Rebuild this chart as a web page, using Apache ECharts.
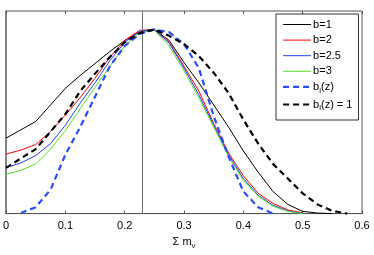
<!DOCTYPE html>
<html><head><meta charset="utf-8">
<script src="https://cdn.jsdelivr.net/npm/echarts@6/dist/echarts.min.js"></script>
<style>html,body{margin:0;padding:0;background:#fff}#c{width:374px;height:255px}</style>
</head><body><div id="c"></div>
<script>
var xs = [0, 0.025, 0.05, 0.075, 0.1, 0.125, 0.15, 0.175, 0.2, 0.225, 0.25, 0.275, 0.3, 0.325, 0.35, 0.375, 0.4, 0.425, 0.45, 0.475, 0.5, 0.525, 0.55, 0.575];
var b1   = [0.41, 0.455, 0.50, 0.59, 0.68, 0.75, 0.815, 0.88, 0.94, 0.985, 1.0, 0.94, 0.82, 0.71, 0.59, 0.47, 0.34, 0.225, 0.12, 0.05, 0.012, 0.003, 0.0, null];
var b2   = [0.323, 0.345, 0.375, 0.445, 0.535, 0.63, 0.735, 0.85, 0.94, 0.995, 1.0, 0.93, 0.80, 0.665, 0.49, 0.33, 0.205, 0.11, 0.055, 0.02, 0.004, null, null, null];
var b25  = [0.25, 0.275, 0.315, 0.38, 0.48, 0.60, 0.71, 0.83, 0.93, 0.99, 1.0, 0.925, 0.79, 0.645, 0.48, 0.32, 0.19, 0.10, 0.045, 0.015, 0.0, null, null, null];
var b3   = [0.213, 0.235, 0.27, 0.35, 0.45, 0.57, 0.685, 0.80, 0.91, 0.985, 0.995, 0.91, 0.775, 0.63, 0.47, 0.31, 0.18, 0.095, 0.04, 0.012, 0.0, null, null, null];
var biz  = [null, 0.003, 0.035, 0.13, 0.32, 0.47, 0.635, 0.80, 0.91, 0.975, 1.0, 0.985, 0.92, 0.79, 0.53, 0.31, 0.12, 0.035, 0.0, null, null, null, null, null];
var biz1 = [0.248, 0.30, 0.35, 0.445, 0.54, 0.665, 0.76, 0.85, 0.93, 0.98, 1.0, 0.965, 0.92, 0.855, 0.765, 0.655, 0.51, 0.38, 0.27, 0.19, 0.11, 0.05, 0.015, 0.0];
var xTicks = [0, 0.1, 0.2, 0.3, 0.4, 0.5, 0.6];
var vline = 0.235;

function pairs(ys){ var o=[]; for(var i=0;i<xs.length;i++){ if(ys[i]!==null) o.push([xs[i], ys[i]]); } return o; }

var names = ['b=1','b=2','b=2.5','b=3','b_i(z)','b_i(z) = 1'];
var colors = ['#000000','#ff0000','#2040ff','#55e022','#2a4bff','#000000'];
var datas = [b1,b2,b25,b3,biz,biz1];
var dashed = [false,false,false,false,true,true];

var series = names.map(function(n,i){
  return {
    name:n, type:'line', data:pairs(datas[i]), showSymbol:false, symbol:'none', smooth:false,
    lineStyle:{color:colors[i], width:dashed[i]?2.2:1, type:dashed[i]?[6,4]:'solid'},
    itemStyle:{color:colors[i]}, z: 3+i, animation:false
  };
});
series[0].markLine = {silent:true, symbol:'none', label:{show:false}, animation:false,
  lineStyle:{color:'#707070', width:1, type:'solid'}, data:[{xAxis:vline}]};

var rich = {sub:{fontSize:8, padding:[7,0,0,0], fontFamily:'Liberation Sans'}};
function fmt(n){ return n.replace(/b_i/, 'b{sub|i}'); }

var legendData = names.map(function(n,i){
  return {name:n, lineStyle:{width:dashed[i]?2.2:1, type:dashed[i]?[6,4]:'solid', color:colors[i]}};
});

var chart = echarts.init(document.getElementById('c'), null, {renderer:'canvas'});
chart.setOption({
  animation:false,
  backgroundColor:'#fff',
  grid:{left:4, right:12, top:11, bottom:35, show:true, borderColor:'#555', borderWidth:1, backgroundColor:'transparent'},
  xAxis:[{
    type:'value', min:0, max:0.6, interval:0.1,
    axisLine:{show:true, lineStyle:{color:'#555'}},
    axisTick:{show:true, inside:true, length:3, lineStyle:{color:'#555'}},
    splitLine:{show:false},
    axisLabel:{color:'#000', fontSize:11, fontFamily:'Liberation Sans', margin:7,
      formatter:function(v){ var t = xTicks.filter(function(k){return Math.abs(k-v)<1e-9;}); return t.length? String(t[0]) : ''; }},
    name:'Σ m{sub|ν}', nameLocation:'middle', nameGap:20,
    nameTextStyle:{color:'#000', fontSize:11, fontFamily:'Liberation Sans', rich:{sub:{fontSize:8, padding:[8,0,0,0], fontFamily:'Liberation Sans'}}}
  },{
    type:'value', min:0, max:0.6, interval:0.1, position:'top',
    axisLine:{show:false}, axisTick:{show:true, inside:true, length:3, lineStyle:{color:'#555'}},
    axisLabel:{show:false}, splitLine:{show:false}
  }],
  yAxis:{type:'value', min:0, max:1.1, axisLine:{show:true, lineStyle:{color:'#777', width:1.5}}, axisTick:{show:false}, axisLabel:{show:false}, splitLine:{show:false}},
  legend:{
    data:legendData, orient:'vertical', left:276, top:14, width:82, itemWidth:28, itemHeight:10, itemGap:4.6,
    padding:[5,6,8,6], backgroundColor:'#fff', borderColor:'#333', borderWidth:1, borderRadius:0,
    itemStyle:{opacity:0},
    textStyle:{color:'#000', fontSize:11, fontFamily:'Liberation Sans', padding:[0,0,0,-3], rich:rich},
    formatter:fmt
  },
  series:series
});
</script></body></html>
